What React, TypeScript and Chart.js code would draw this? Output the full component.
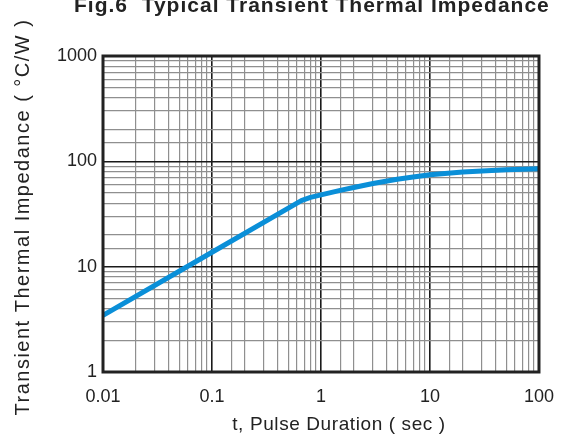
import React, { useEffect, useRef } from "react";
import { Chart, registerables } from "chart.js";

Chart.register(...registerables);

const pulseDuration = [0.01, 0.1, 0.66, 0.8, 1, 1.5, 2, 3, 5, 7, 10, 20, 30, 50, 100];
const thermalImpedance = [3.45, 13.7, 42.4, 45.5, 48, 53, 56.5, 61.5, 67.5, 71, 74.5, 79, 81, 83, 85];
const xTickLabels = [0.01, 0.1, 1, 10, 100];
const yTickLabels = [1, 10, 100, 1000];

const chartTitle = "Fig.6  Typical Transient Thermal Impedance";
const xTitle = "t, Pulse Duration ( sec )";
const yTitle = "Transient Thermal Impedance ( °C/W )";

const FONT = 'Arial, "Liberation Sans", sans-serif';
const TEXT = "#222";

const isDecade = (v: number) => {
  const l = Math.log10(v);
  return Math.abs(l - Math.round(l)) < 1e-6;
};

const near = (v: number, list: number[]) => list.some((t) => Math.abs(v - t) / t < 1e-6);

const decorPlugin = {
  id: "decor",
  afterDraw(chart: any) {
    const { ctx, chartArea } = chart;
    ctx.save();
    ctx.strokeStyle = "#222";
    ctx.lineWidth = 3;
    ctx.strokeRect(chartArea.left, chartArea.top, chartArea.right - chartArea.left, chartArea.bottom - chartArea.top);

    ctx.fillStyle = TEXT;
    (ctx as any).letterSpacing = "1px";
    ctx.font = `bold 21px ${FONT}`;
    ctx.textAlign = "left";
    ctx.textBaseline = "alphabetic";
    ctx.fillText(chartTitle, 74, 12);

    (ctx as any).letterSpacing = "0.6px";
    ctx.font = `19px ${FONT}`;
    ctx.textAlign = "center";
    ctx.fillText(xTitle, 339, 430);

    ctx.translate(29, 217);
    ctx.rotate(-Math.PI / 2);
    (ctx as any).letterSpacing = "1.5px";
    ctx.font = `20px ${FONT}`;
    ctx.fillText(yTitle, 0, 0);
    ctx.restore();
  },
};

export default function App() {
  const ref = useRef<HTMLCanvasElement | null>(null);

  useEffect(() => {
    if (!ref.current) return;
    const gridColor = (c: any) => (c.tick && isDecade(c.tick.value) ? "#1a1a1a" : "#8f8f8f");
    const gridWidth = (c: any) => (c.tick && isDecade(c.tick.value) ? 1.6 : 1.2);
    const chart = new Chart(ref.current, {
      type: "line",
      data: {
        datasets: [
          {
            data: pulseDuration.map((x, i) => ({ x, y: thermalImpedance[i] })),
            borderColor: "#0a8fd8",
            borderWidth: 5,
            pointRadius: 0,
            tension: 0,
            borderJoinStyle: "round",
            fill: false,
          },
        ],
      },
      options: {
        animation: false,
        responsive: false,
        devicePixelRatio: 1,
        layout: { padding: { top: 56, right: 27, left: 0, bottom: 0 } },
        plugins: { legend: { display: false }, tooltip: { enabled: false }, title: { display: false } },
        scales: {
          x: {
            type: "logarithmic",
            min: 0.01,
            max: 100,
            border: { display: false },
            grid: { color: gridColor, lineWidth: gridWidth, drawTicks: false },
            ticks: {
              color: TEXT,
              font: { family: FONT, size: 18 },
              padding: 14,
              autoSkip: false,
              maxRotation: 0,
              callback: (v: any) => (near(Number(v), xTickLabels) ? String(Number(v)) : ""),
            },
            afterFit: (s: any) => {
              s.height = 76;
            },
          },
          y: {
            type: "logarithmic",
            min: 1,
            max: 1000,
            border: { display: false },
            grid: { color: gridColor, lineWidth: gridWidth, drawTicks: false },
            ticks: {
              color: TEXT,
              font: { family: FONT, size: 18 },
              padding: 6,
              autoSkip: false,
              callback: (v: any) => (near(Number(v), yTickLabels) ? String(Number(v)) : ""),
            },
            afterFit: (s: any) => {
              s.width = 103;
            },
          },
        },
      } as any,
      plugins: [decorPlugin],
    });
    return () => chart.destroy();
  }, []);

  return (
    <div style={{ position: "fixed", left: 0, top: 0, width: 568, height: 448, background: "#fff" }}>
      <canvas ref={ref} width={568} height={448} style={{ width: 568, height: 448, display: "block" }} />
    </div>
  );
}
